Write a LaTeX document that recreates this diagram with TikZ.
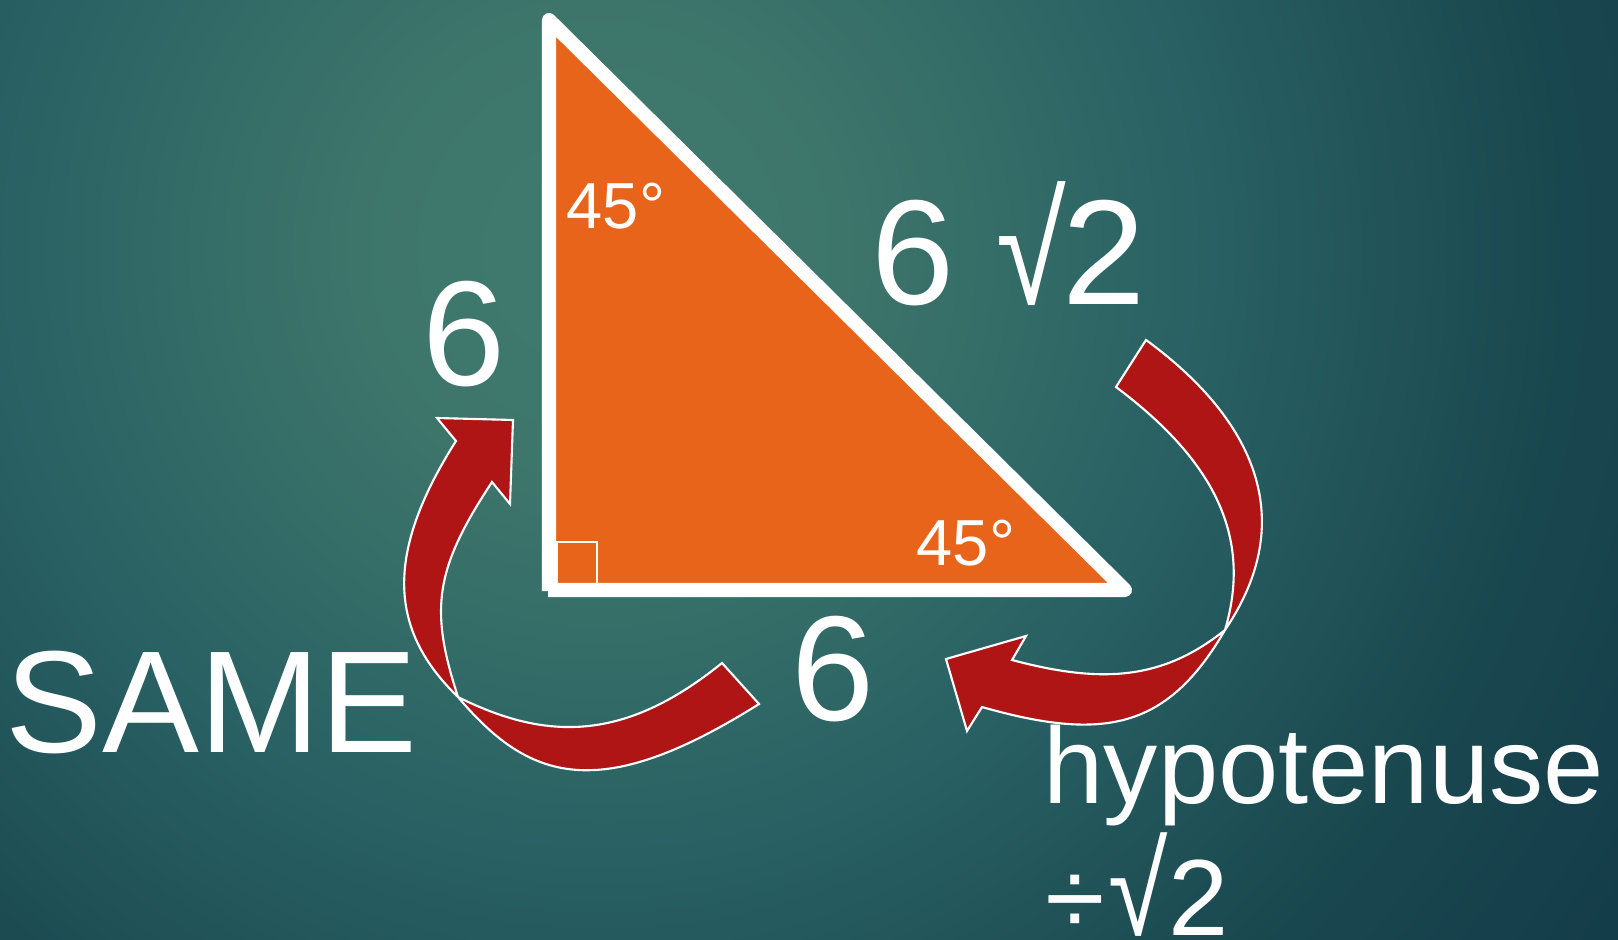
\documentclass[tikz,border=0pt]{standalone}
\usepackage{fontspec}
\setmainfont{Liberation Sans}
\usepackage{graphicx}
\usepackage{tikz}

\definecolor{naranja}{HTML}{E8641A}
\definecolor{rojo}{HTML}{B01515}
\pgfdeclareradialshading{fondo}{\pgfpoint{0bp}{0bp}}{%
  rgb(0bp)=(0.25,0.48,0.43);
  rgb(2.5bp)=(0.24,0.46,0.42);
  rgb(6.25bp)=(0.16,0.38,0.39);
  rgb(10bp)=(0.10,0.28,0.31);
  rgb(12.5bp)=(0.08,0.24,0.29);
  rgb(25bp)=(0.08,0.24,0.29)}

\begin{document}
\begin{tikzpicture}[x=0.01cm, y=-0.01cm,
	texto/.style={text=white, inner sep=0pt, anchor=base west},
	grande/.style={texto, font=\fontsize{42.5}{51}\selectfont},
	angulo/.style={texto, font=\fontsize{18.5}{22}\selectfont},
	regla/.style={texto, font=\fontsize{30.8}{37}\selectfont},
	flecha/.style={fill=rojo, draw=white, line width=0.6pt}
	]
	% Fondo
	\useasboundingbox (0,0) rectangle (1618,940);
	\begin{scope}
		\clip (0,0) rectangle (1618,940);
		\shade[shading=fondo] (600,250) circle[radius=24cm];
	\end{scope}
	
	% Vértices del triángulo
	\coordinate (A) at (549,20);
	\coordinate (B) at (549,591);
	\coordinate (C) at (1125,590);
	\fill[naranja] (A) -- (C) -- (B) -- cycle;
	\draw[white, line width=0.6pt] (557,583) -- (557,542) -- (597,542) -- (597,583);
	\draw[white, line width=4pt, line join=round] (B) -- (A) -- (C) -- (548,590);
	
	% Flecha izquierda
	\filldraw[flecha] (722,663) .. controls (625.4,741.2) and (547.6,741.8) .. (458,697)
		.. controls (429.4,609) and (434.5,569.4) .. (492,482)
		-- (510,504) -- (513,420) -- (437,418) -- (456,441)
		.. controls (383.4,555.4) and (389.8,631) .. (458,697)
		.. controls (528.4,780.2) and (597.8,805.4) .. (759,704)
		-- cycle;
	
	% Flecha derecha
	\filldraw[flecha] (1146,340) .. controls (1227.4,399.4) and (1312.5,500.5) .. (1225,630)
		.. controls (1167.5,728.9) and (1104.5,742) .. (982,707)
		-- (967,731) -- (946,659) -- (1026,636) -- (1012,660)
		.. controls (1102,684) and (1162.5,680) .. (1225,630)
		.. controls (1253,535.5) and (1212.8,459.6) .. (1116,387)
		-- cycle;
	
	% Etiquetas
	\node[angulo] (ang1) at (566,229) {45°};
	\node[angulo] (ang2) at (916,565) {45°};
	\node[grande] (hip) at (871,305) {6 \scalebox{0.85}[1.04]{√}\kern-1pt 2};
	\node[grande] (cat1) at (422,386) {6};
	\node[grande] (cat2) at (791,720) {6};
	\node[grande, font=\fontsize{41.3}{50}\selectfont] (igual) at (5,752) {SAME};
	\node[regla] (regla1) at (1043,803) {hypotenuse};
	\node[regla] (regla2) at (1045,935) {÷\kern1pt\scalebox{1}[1.2]{√}2};
\end{tikzpicture}
\end{document}
